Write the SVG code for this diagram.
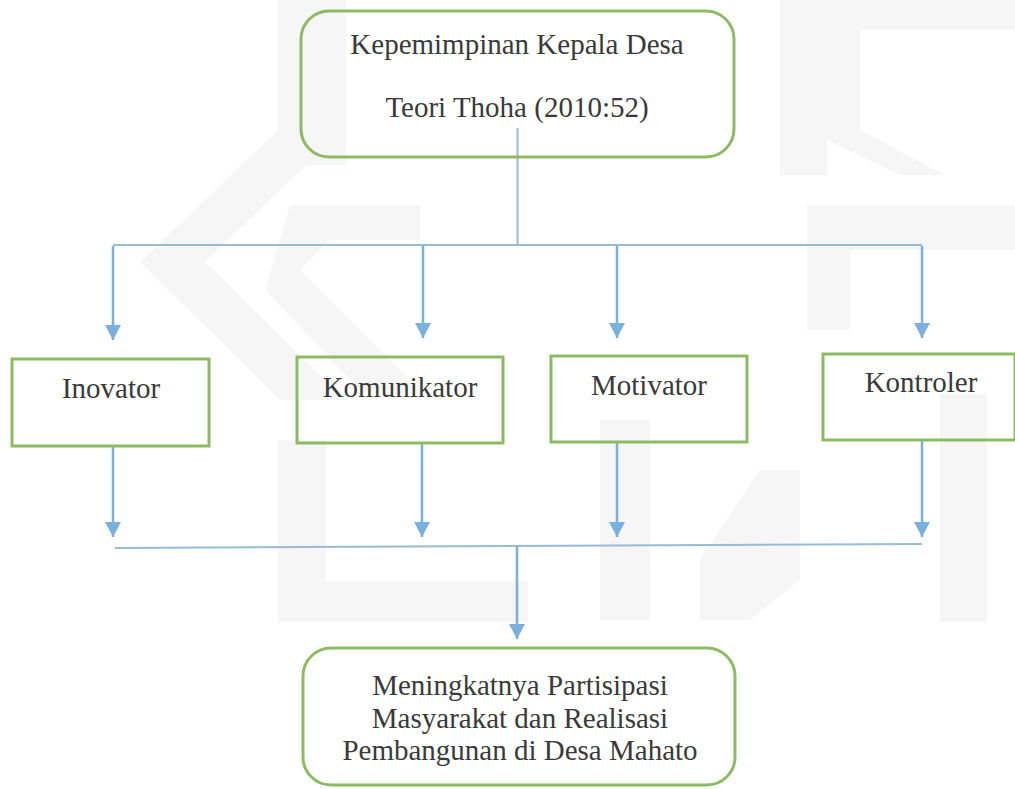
<svg xmlns="http://www.w3.org/2000/svg" width="1015" height="789" viewBox="0 0 1015 789">
  <style>
    .box { fill: none; stroke: #8dbb64; stroke-width: 3; }
    .lbl { font-family: "Liberation Serif", "Times New Roman", serif; font-size: 29px; fill: #3a3a3a; text-anchor: middle; }
    .arrow { stroke: #7bafdc; stroke-width: 2.5; fill: none; marker-end: url(#ah); }
    .thin { stroke: #95bdd6; stroke-width: 2; fill: none; }
    .wm { fill: #f6f6f6; }
  </style>
  <defs>
    <marker id="ah" viewBox="0 0 15 16" refX="15" refY="8" markerWidth="15" markerHeight="16" markerUnits="userSpaceOnUse" orient="auto">
      <path d="M0,0 L15,8 L0,16 Z" fill="#7bafdc"/>
    </marker>
  </defs>
  <rect width="1015" height="789" fill="#ffffff"/>

  <g id="watermark">
    <rect class="wm" x="278" y="0" width="68" height="165"/>
    <polygon class="wm" points="280,128 345,128 205,262 345,400 280,400 140,262"/>
    <polygon class="wm" points="290,205 420,205 420,240 330,240 300,270 420,390 360,390 265,290"/>
    <rect class="wm" x="278" y="440" width="48" height="182"/>
    <rect class="wm" x="278" y="581" width="250" height="41"/>
    <rect class="wm" x="940" y="394" width="47" height="228"/>
    <rect class="wm" x="780" y="0" width="47" height="175"/>
    <polygon class="wm" points="827,0 1015,0 1015,30 860,30 860,130 945,175 900,175 827,140"/>
    <polygon class="wm" points="807,205 1015,205 1015,250 850,250 850,330 807,330"/>
    <polygon class="wm" points="600,420 650,420 650,620 600,620"/>
    <polygon class="wm" points="700,560 760,470 800,470 800,580 750,620 700,620"/>
  </g>

  <g id="connectors">
    <line class="thin" x1="517.5" y1="128" x2="517.5" y2="245"/>
    <line class="thin" x1="113" y1="245" x2="922" y2="245"/>
    <line class="arrow" x1="113" y1="246" x2="113" y2="340"/>
    <line class="arrow" x1="423" y1="246" x2="423" y2="338"/>
    <line class="arrow" x1="617" y1="246" x2="617" y2="338"/>
    <line class="arrow" x1="922" y1="246" x2="922" y2="338"/>
    <line class="arrow" x1="113" y1="446" x2="113" y2="537"/>
    <line class="arrow" x1="422" y1="443" x2="422" y2="537"/>
    <line class="arrow" x1="617" y1="442" x2="617" y2="537"/>
    <line class="arrow" x1="922" y1="440" x2="922" y2="537"/>
    <line class="thin" x1="115" y1="548" x2="922" y2="544"/>
    <line class="arrow" x1="517" y1="546" x2="517" y2="639"/>
  </g>

  <g id="node-top">
    <rect class="box" x="301" y="11" width="433" height="146" rx="28" ry="28"/>
    <text class="lbl" x="517" y="54">Kepemimpinan Kepala Desa</text>
    <text class="lbl" x="517" y="117">Teori Thoha (2010:52)</text>
  </g>

  <g id="node-inovator">
    <rect class="box" x="12" y="359" width="197" height="87"/>
    <text class="lbl" x="111" y="398">Inovator</text>
  </g>

  <g id="node-komunikator">
    <rect class="box" x="297" y="357" width="206" height="86"/>
    <text class="lbl" x="400" y="397">Komunikator</text>
  </g>

  <g id="node-motivator">
    <rect class="box" x="551" y="356" width="196" height="86"/>
    <text class="lbl" x="649" y="395">Motivator</text>
  </g>

  <g id="node-kontroler">
    <rect class="box" x="823" y="354" width="192" height="86"/>
    <text class="lbl" x="921" y="392">Kontroler</text>
  </g>

  <g id="node-bottom">
    <rect class="box" x="303" y="648" width="432" height="137" rx="28" ry="28"/>
    <text class="lbl" x="520" y="695">Meningkatnya Partisipasi</text>
    <text class="lbl" x="520" y="728">Masyarakat dan Realisasi</text>
    <text class="lbl" x="520" y="760">Pembangunan di Desa Mahato</text>
  </g>
</svg>
